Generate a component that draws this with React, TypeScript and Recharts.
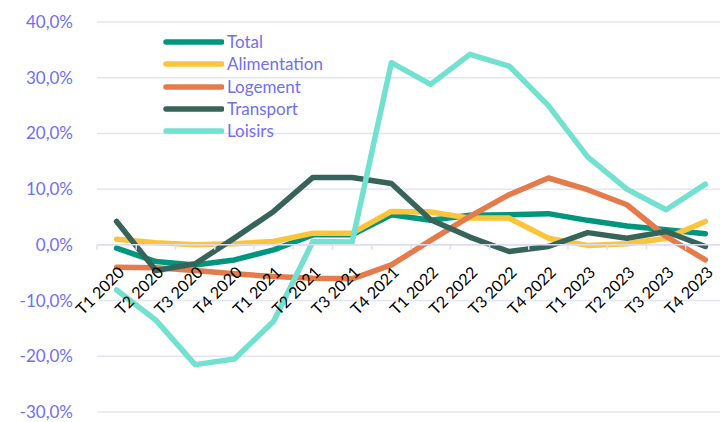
import {
  LineChart,
  Line,
  XAxis,
  YAxis,
  CartesianGrid,
  ReferenceLine,
  Legend,
} from "recharts";

const quarters = [
  "T1 2020", "T2 2020", "T3 2020", "T4 2020",
  "T1 2021", "T2 2021", "T3 2021", "T4 2021",
  "T1 2022", "T2 2022", "T3 2022", "T4 2022",
  "T1 2023", "T2 2023", "T3 2023", "T4 2023",
];

const total = [-0.6, -3.0, -3.6, -2.7, -0.9, 1.8, 1.8, 5.4, 4.4, 5.3, 5.4, 5.6, 4.4, 3.4, 2.7, 2.0];
const alimentation = [1.0, 0.4, 0.0, 0.2, 0.6, 2.1, 2.1, 6.0, 5.9, 4.8, 4.8, 1.2, -0.1, 0.2, 1.2, 4.2];
const logement = [-4.0, -4.1, -4.6, -5.2, -5.7, -6.0, -6.1, -3.6, 0.8, 5.1, 9.0, 12.0, 9.9, 7.2, 1.5, -2.7];
const transport = [4.2, -4.6, -3.4, 1.2, 6.0, 12.1, 12.1, 11.0, 4.5, 1.4, -1.2, -0.3, 2.2, 1.2, 2.4, -0.3];
const loisirs = [-8.1, -13.5, -21.5, -20.5, -13.7, 0.6, 0.5, 32.7, 28.8, 34.2, 32.1, 25.0, 15.8, 10.0, 6.3, 10.9];

const yTicks = [-30, -20, -10, 0, 10, 20, 30, 40];

const series = [
  { key: "total", name: "Total", color: "#00957d" },
  { key: "alimentation", name: "Alimentation", color: "#fbc43b" },
  { key: "logement", name: "Logement", color: "#e57a4b" },
  { key: "transport", name: "Transport", color: "#37645a" },
  { key: "loisirs", name: "Loisirs", color: "#73e1cf" },
];

const data = quarters.map((q, i) => ({
  q,
  total: total[i],
  alimentation: alimentation[i],
  logement: logement[i],
  transport: transport[i],
  loisirs: loisirs[i],
}));

const BLUE = "#6f6ff2";
const FONT = "Lato, 'Open Sans', sans-serif";

const fmtPct = (v: number) => `${v.toFixed(1).replace(".", ",")}%`;

// zero line doubles as the category axis (labels hang below it)
const ZeroAxis = (props: any) => {
  const { x1, x2, y1 } = props;
  const n = quarters.length;
  const step = (x2 - x1) / n;
  return (
    <g>
      <line x1={x1} x2={x2} y1={y1} y2={y1} stroke="#dcdcf4" strokeWidth={1.5} />
      {quarters.map((_, i) => (
        <line
          key={`t-${i}`}
          x1={x1 + i * step}
          x2={x1 + i * step}
          y1={y1}
          y2={y1 + 5}
          stroke="#dcdcf4"
          strokeWidth={1.5}
        />
      ))}
      {quarters.map((q, i) => {
        const cx = x1 + (i + 0.5) * step + 4;
        const cy = y1 + 24;
        return (
          <text
            key={`l-${i}`}
            x={cx}
            y={cy}
            textAnchor="end"
            dominantBaseline="central"
            transform={`rotate(-45 ${cx} ${cy})`}
            fontFamily={FONT}
            fontSize={16}
            fill="#000"
          >
            {q}
          </text>
        );
      })}
    </g>
  );
};

// keep the legend in series order (recharts sorts it otherwise)
const LegendBox = () => (
  <div style={{ fontFamily: FONT, fontSize: 17, color: BLUE }}>
    {series.map((s) => (
      <div key={s.key} style={{ display: "flex", alignItems: "center", height: 22.3 }}>
        <svg width={61} height={10}>
          <line x1={3} x2={59} y1={5} y2={5} stroke={s.color} strokeWidth={5.5} strokeLinecap="round" />
        </svg>
        <span style={{ marginLeft: 3, lineHeight: "22px" }}>{s.name}</span>
      </div>
    ))}
  </div>
);

export default function App() {
  return (
    <div style={{ width: 720, height: 422, overflow: "hidden" }}>
      <style>{"body{margin:0}"}</style>
      <LineChart
        width={725}
        height={422}
        data={data}
        margin={{ top: 22, right: 0, bottom: 10, left: 0 }}
      >
        <CartesianGrid vertical={false} stroke="#e4e4f8" strokeWidth={1.5} />
        <XAxis dataKey="q" scale="band" hide />
        <YAxis
          domain={[-30, 40]}
          ticks={yTicks}
          width={97}
          axisLine={false}
          tickLine={false}
          tickSize={0}
          tickMargin={24}
          tickFormatter={fmtPct}
          tick={{ fill: BLUE, fontSize: 17, fontFamily: FONT }}
        />
        {series.map((s) => (
          <Line
            key={s.key}
            type="linear"
            dataKey={s.key}
            name={s.name}
            stroke={s.color}
            strokeWidth={5.5}
            strokeLinecap="round"
            strokeLinejoin="round"
            dot={false}
            activeDot={false}
            isAnimationActive={false}
          />
        ))}
        <ReferenceLine y={0} shape={ZeroAxis} />
        <Legend
          layout="vertical"
          align="center"
          verticalAlign="middle"
          content={LegendBox}
          wrapperStyle={{ left: 163, top: 31, width: 200 }}
        />
      </LineChart>
    </div>
  );
}
